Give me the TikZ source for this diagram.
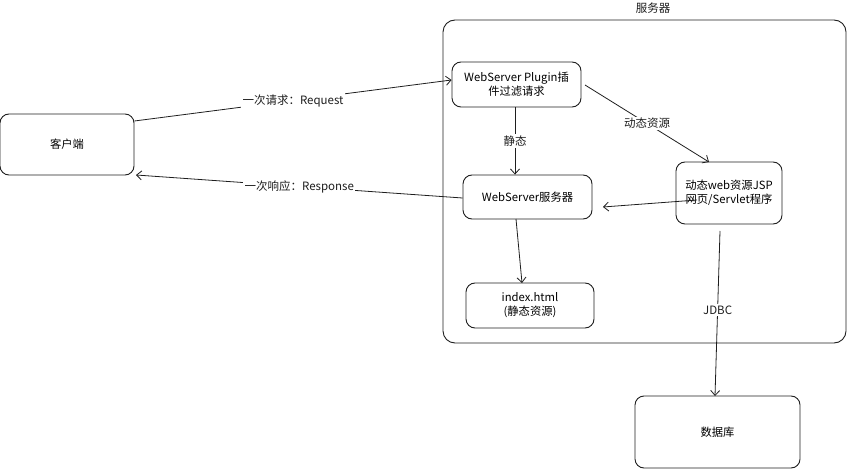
\documentclass[tikz,border=0pt]{standalone}
\usepackage{fontspec}
\setmainfont{Noto Sans CJK SC}
\usetikzlibrary{arrows.meta}
\definecolor{ink}{HTML}{1E1E1E}
\begin{document}
\begin{tikzpicture}[x=1pt,y=-1pt,
  box/.style={draw=ink,line width=0.9pt,rounded corners=9pt,inner sep=0pt,align=center,font=\fontsize{11.3}{14}\selectfont},
  conn/.style={draw=ink,line width=0.8pt,-{Straight Barb[length=5pt,width=9pt]}},
  lbl/.style={fill=white,inner sep=1.5pt,font=\fontsize{11.5}{14}\selectfont,text=ink}]
\useasboundingbox (0,0) rectangle (848,470);
% server container
\draw[draw=ink,line width=0.9pt,rounded corners=12pt] (443,20) rectangle (846,343);
\node[font=\fontsize{11.5}{14}\selectfont,text=ink] (title) at (653,8) {服务器};
% nodes
\node[box,minimum width=134pt,minimum height=61pt] (client) at (67,144.5) {客户端};
\node[box,minimum width=129pt,minimum height=45pt] (plugin) at (516.5,84.5) {WebServer Plugin插\\件过滤请求};
\node[box,minimum width=129pt,minimum height=44pt] (web) at (527.5,197) {WebServer服务器};
\node[box,minimum width=106pt,minimum height=62pt] (dyn) at (729,193) {动态web资源JSP\\网页/Servlet程序};
\node[box,minimum width=128pt,minimum height=45pt] (idx) at (530,305.5) {index.html\\(静态资源)};
\node[box,minimum width=165pt,minimum height=72pt] (db) at (717.5,432) {数据库};
% connectors
\coordinate (c1) at (134,121);
\coordinate (c2) at (450,80);
\draw[conn] (client.east|-c1) -- node[lbl,pos=0.5] {一次请求：Request} (plugin.west|-c2);
\coordinate (r1) at (463,198);
\coordinate (r2) at (136,175);
\draw[conn] (web.west|-r1) -- node[lbl,pos=0.5] {一次响应：Response} (r2);
\coordinate (s1) at (515,107);
\coordinate (s2) at (515,175);
\draw[conn] (plugin.south-|s1) -- node[lbl] {静态} (web.north-|s2);
\coordinate (d1) at (585,85);
\coordinate (d2) at (709,162);
\draw[conn] (d1) -- node[lbl] {动态资源} (d2);
\coordinate (w1) at (697,200);
\coordinate (w2) at (603,207);
\draw[conn] (w1) -- (w2);
\coordinate (i1) at (516,219);
\coordinate (i2) at (522,283);
\draw[conn] (i1) -- (i2);
\coordinate (j1) at (720,231);
\coordinate (j2) at (715,396);
\draw[conn] (j1) -- node[lbl,pos=0.48] {JDBC} (j2);
\end{tikzpicture}
\end{document}
